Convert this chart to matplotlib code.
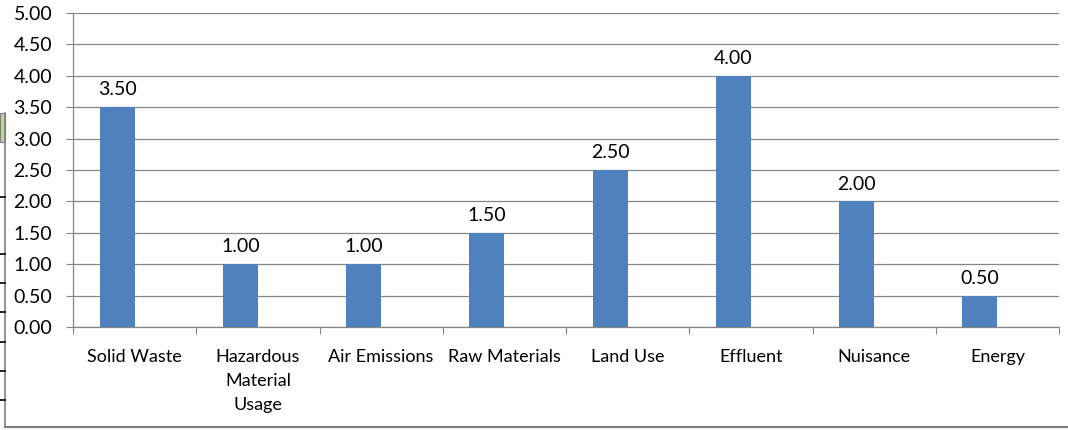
import matplotlib.pyplot as plt
from matplotlib.lines import Line2D
from matplotlib.patches import Rectangle
import numpy as np

categories = ["Solid Waste", "Hazardous\nMaterial\nUsage", "Air Emissions", "Raw Materials",
              "Land Use", "Effluent", "Nuisance", "Energy"]
values = [3.50, 1.00, 1.00, 1.50, 2.50, 4.00, 2.00, 0.50]
y_ticks = [0.0, 0.5, 1.0, 1.5, 2.0, 2.5, 3.0, 3.5, 4.0, 4.5, 5.0]

plt.rcParams["font.family"] = ["Lato", "DejaVu Sans"]
fs = 13
fs_num = 14

fig = plt.figure(figsize=(10.68, 4.30), dpi=100)
ax = fig.add_axes([0.0684, 0.2395, 0.9232, 0.7303])

x = np.arange(len(categories)) + 0.5
bar_w = 0.285
bars = ax.bar(x - bar_w / 2, values, width=bar_w, color="#4F81BD", zorder=3)
for b, v in zip(bars, values):
    ax.text(b.get_x() + b.get_width() / 2, v + 0.14, f"{v:.2f}", ha="center", va="bottom",
            fontsize=fs_num, color="#000000")

ax.set_xlim(0, len(categories))
ax.set_ylim(0, 5)
ax.set_yticks(y_ticks)
ax.set_yticklabels([f"{t:.2f}" for t in y_ticks], fontsize=fs_num)
ax.yaxis.grid(True, color="#868686", linewidth=0.9, zorder=0)

ax.set_xticks(np.arange(len(categories) + 1))
ax.set_xticklabels([])
ax.set_xticks(x, minor=True)
ax.set_xticklabels(categories, minor=True, fontsize=fs, linespacing=1.6, va="top")
ax.tick_params(axis="x", which="minor", length=0, pad=16)
ax.tick_params(axis="x", which="major", length=5, color="#868686", direction="out")
ax.tick_params(axis="y", length=5, color="#868686", direction="out", pad=10)

for side in ["top", "right"]:
    ax.spines[side].set_visible(False)
for side in ["left", "bottom"]:
    ax.spines[side].set_color("#868686")
    ax.spines[side].set_linewidth(0.9)

# border remnants from the source sheet
fig.add_artist(Line2D([5 / 1068, 5 / 1068], [0.006, 1 - 113 / 430], color="#7f7f7f", linewidth=1.2))
fig.add_artist(Line2D([5 / 1068, 1.0], [1 - 427 / 430, 1 - 427 / 430], color="#7f7f7f", linewidth=1.5))
fig.add_artist(Rectangle((0, 1 - 142 / 430), 5 / 1068, 29 / 430, facecolor="#c4d79b",
                         edgecolor="#7f7f7f", linewidth=0.8))
for yy in [197, 254, 283, 312, 342, 371, 400]:
    fig.add_artist(Line2D([0, 5 / 1068], [1 - yy / 430, 1 - yy / 430], color="#000000", linewidth=1.2))

fig.savefig("out.png", dpi=100)
